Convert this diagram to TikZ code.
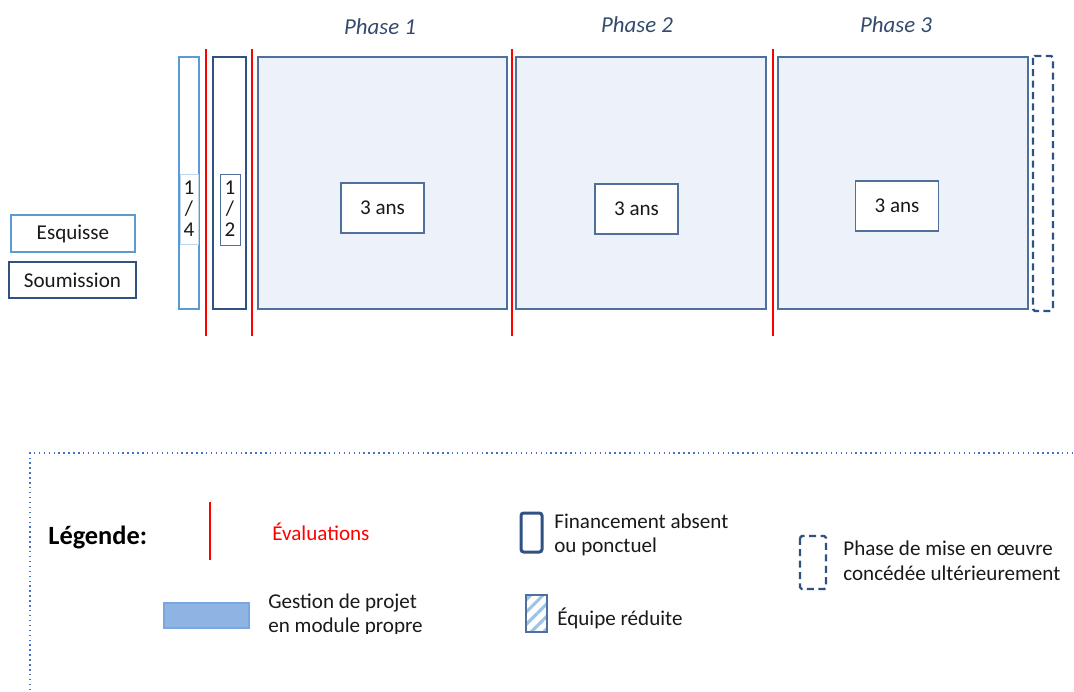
\documentclass[tikz,border=0pt]{standalone}
\usepackage{fontspec}
\setmainfont{Carlito}
\usetikzlibrary{patterns.meta}

\definecolor{esqblue}{HTML}{5B9BD5}
\definecolor{soumblue}{HTML}{2F5283}
\definecolor{phasefill}{HTML}{EDF1F9}
\definecolor{phaseedge}{HTML}{4F6F9C}
\definecolor{phasetitle}{HTML}{344B6E}
\definecolor{gestfill}{HTML}{8EB4E3}
\definecolor{gestedge}{HTML}{7BA7E0}
\definecolor{hatchblue}{HTML}{9DC3E6}
\definecolor{legborder}{HTML}{4472C4}

\tikzset{
  txt/.style={font=\fontsize{12}{14}\selectfont, text=black!90, inner sep=0pt},
  evalline/.style={red, line width=1.1pt},
  phasebox/.style={draw=phaseedge, fill=phasefill, line width=0.6pt},
  dureebox/.style={txt, draw=phaseedge, fill=white, line width=0.6pt, minimum width=1.66cm, minimum height=1cm},
  phasetitle/.style={font=\fontsize{13}{15}\selectfont\itshape, text=phasetitle},
  esqbox/.style={draw=esqblue, line width=1.1pt},
  soumbox/.style={draw=soumblue, line width=1.1pt},
  laterbox/.style={draw=soumblue, line width=1.4pt, dashed, dash pattern=on 4pt off 2.5pt, rounded corners=1pt},
  fracbox/.style={fill=white, line width=0.4pt},
}

\begin{document}
\begin{tikzpicture}[x=0.02cm,y=-0.02cm]
\useasboundingbox (0,0) rectangle (1074,691);

% tableau des phases
\node[txt, esqbox, minimum width=2.48cm, minimum height=0.74cm] (esquisse) at (73,233.5) {Esquisse};
\node[txt, soumbox, minimum width=2.54cm, minimum height=0.72cm] (soumission) at (72.5,280) {Soumission};

\draw[esqbox] (179,57) rectangle (199,309);
\draw[fracbox, draw=esqblue!40] (180,174) rectangle (198,244);
\node[txt, align=center, font=\fontsize{12}{12}\selectfont] (quart) at (189,209) {1\\/\\4};

\draw[soumbox] (213,57) rectangle (246,309);
\draw[fracbox, draw=phaseedge] (220,174) rectangle (240,245);
\node[txt, align=center, font=\fontsize{12}{12}\selectfont] (demi) at (230,209) {1\\/\\2};

\draw[phasebox] (258,57) rectangle (507,309);
\draw[phasebox] (516,57) rectangle (766,309);
\draw[phasebox] (778,57) rectangle (1028,309);
\draw[laterbox] (1033,56) rectangle (1053,311);

\node[dureebox] (duree1) at (382.5,208) {3 ans};
\node[dureebox] (duree2) at (636.5,209) {3 ans};
\node[dureebox] (duree3) at (897,206) {3 ans};

\node[phasetitle] (phase1) at (380,27) {Phase 1};
\node[phasetitle] (phase2) at (637,25) {Phase 2};
\node[phasetitle] (phase3) at (896,25) {Phase 3};

\foreach \xe in {206,252,512,773}
  \draw[evalline] (\xe,49) -- (\xe,336);

% legende
\draw[legborder, dotted, line width=0.8pt] (30,700) -- (30,453) -- (1080,453);
\node[font=\fontsize{15}{17}\selectfont\bfseries, inner sep=0pt, anchor=west] (legende) at (48,537) {Légende:};

\draw[evalline] (210,502) -- (210,560);
\node[txt, anchor=west, text=red] (evaluations) at (272,532) {Évaluations};

\draw[fill=gestfill, draw=gestedge, line width=0.8pt] (164,603) rectangle (249,628);
\begin{scope}
  \clip (0,0) rectangle (1074,633);
  \node[txt, anchor=west, align=left] (gestion) at (268,615) {Gestion de projet\\en module propre};
\end{scope}

\draw[draw=soumblue, line width=1.7pt, rounded corners=1.5pt] (521,513) rectangle (542,552);
\node[txt, anchor=west, align=left] (financement) at (554,535) {Financement absent\\ou ponctuel};

\draw[pattern={Lines[angle=45,distance=5pt,line width=1.8pt]}, pattern color=hatchblue, draw=phaseedge, line width=0.6pt] (526,595) rectangle (547,632);
\node[txt, anchor=west] (equipe) at (557,618) {Équipe réduite};

\draw[laterbox] (800,536) rectangle (826,589);
\node[txt, anchor=west, align=left] (miseoeuvre) at (843,560.5) {Phase de mise en œuvre\\concédée ultérieurement};

\end{tikzpicture}
\end{document}
